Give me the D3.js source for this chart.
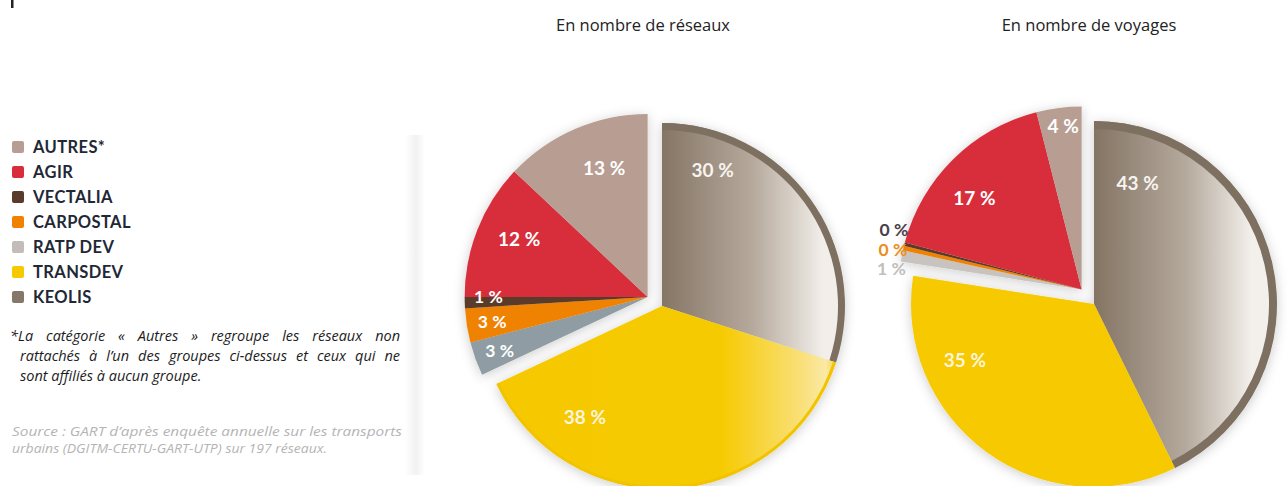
<!DOCTYPE html>
<html>
<head>
<meta charset="utf-8">
<script src="https://cdn.jsdelivr.net/npm/d3@7"></script>
<style>
  html, body { margin: 0; padding: 0; background: #ffffff; }
  svg { display: block; }
  text { font-family: Lato, "Open Sans", "Noto Sans", sans-serif; }
  .os { font-family: "Open Sans", "Noto Sans", sans-serif; }
</style>
</head>
<body>
<div id="chart"></div>
<script>
// ---------- DATA ----------
const categories = ["KEOLIS", "TRANSDEV", "RATP DEV", "CARPOSTAL", "VECTALIA", "AGIR", "AUTRES*"];
const legendLabels = ["AUTRES*", "AGIR", "VECTALIA", "CARPOSTAL", "RATP DEV", "TRANSDEV", "KEOLIS"];
const networksShare = [30, 38, 3, 3, 1, 12, 13];          // % en nombre de réseaux
const tripsShare    = [43, 35, 1, 0.4, 0.3, 17, 4];       // % en nombre de voyages
const pieTitles = ["En nombre de réseaux", "En nombre de voyages"];
const footnoteLines = [
  "*La catégorie « Autres » regroupe les réseaux non",
  "rattachés à l’un des groupes ci-dessus et ceux qui ne",
  "sont affiliés à aucun groupe."
];
const sourceLines = [
  "Source : GART d’après enquête annuelle sur les transports",
  "urbains (DGITM-CERTU-GART-UTP) sur 197 réseaux."
];

// ---------- STYLE / LAYOUT ----------
const W = 1287, H = 486;
const colors = {
  "KEOLIS": "#85786a", "TRANSDEV": "#f6c900", "RATP DEV": "#c3bcb8",
  "CARPOSTAL": "#ef8200", "VECTALIA": "#5a3b2b", "AGIR": "#d82e3b", "AUTRES*": "#b89d93"
};
const pies = [
  {
    values: networksShare, title: pieTitles[0], cx: 662, cy: 306, r: 183, titleX: 643,
    explodeFrom: 2, explode: 17, rim: 7, transdevGrad: true,
    over: { "RATP DEV": "#8f9ca3" },
    // label placement: [fraction along slice angle, fraction of radius]
    labelPos: [[0.19, 0.79], [0.78, 0.74], [0.5, 0.86], [0.5, 0.86], [1.0, 0.87], [0.56, 0.77], [0.6, 0.74]],
    labelSize: [19, 19, 17.5, 17.5, 17.5, 19, 19],
    outside: [false, false, false, false, false, false, false],
    labelColor: ["#f7f3ee", "#fbf4dc", "#ffffff", "#ffffff", "#ffffff", "#ffffff", "#ffffff"]
  },
  {
    values: tripsShare, title: pieTitles[1], cx: 1094, cy: 304, r: 183, titleX: 1089,
    explodeFrom: 2, explode: 19, rim: 8, transdevGrad: false,
    over: { "RATP DEV": "#c9c3bf" },
    labelPos: [[0.13, 0.70], [0.74, 0.77], [0.5, 1.0], [0.5, 1.0], [0.5, 1.0], [0.42, 0.77], [0.55, 0.9]],
    labelSize: [19, 19, 17.5, 17.5, 17.5, 19, 19],
    outside: [false, false, true, true, true, false, false],
    labelColor: ["#f7f3ee", "#fbf4dc", "#c2bebc", "#ea8f1c", "#4b4049", "#ffffff", "#ffffff"]
  }
];

const svg = d3.select("#chart").append("svg").attr("width", W).attr("height", H);
const defs = svg.append("defs");

const f = defs.append("filter").attr("id", "shadow")
  .attr("x", "-20%").attr("y", "-20%").attr("width", "140%").attr("height", "140%");
f.append("feDropShadow").attr("dx", 0).attr("dy", 2).attr("stdDeviation", 6)
  .attr("flood-color", "#000").attr("flood-opacity", 0.2);

function linGrad(id, stops) {
  const g = defs.append("linearGradient").attr("id", id)
    .attr("x1", 0).attr("y1", 0).attr("x2", 1).attr("y2", 0);
  stops.forEach(s => g.append("stop").attr("offset", s[0]).attr("stop-color", s[1]));
}
linGrad("keolisGrad0", [[0, "#857565"], [0.5, "#b6aa9d"], [0.88, "#f2eeea"], [1, "#f2eeea"]]);
linGrad("keolisGrad1", [[0, "#847464"], [0.5, "#b4a99c"], [0.86, "#f3efeb"], [1, "#f3efeb"]]);
linGrad("transdevGrad", [[0, "#f5c800"], [0.66, "#f6ca00"], [0.9, "#f9e07a"], [0.97, "#fbe9a6"], [1, "#f6d24a"]]);
linGrad("panelGrad", [[0, "#ffffff"], [0.55, "#f1f1f1"], [1, "#ffffff"]]);

// decorative remnant of the cropped title
svg.append("rect").attr("x", 11).attr("y", 0).attr("width", 2.5).attr("height", 8).attr("fill", "#222");

// legend panel edge shading
svg.append("rect").attr("x", 405).attr("y", 135).attr("width", 20).attr("height", 340)
  .attr("fill", "url(#panelGrad)");

// ---------- LEGEND ----------
const legY = d3.scalePoint().domain(legendLabels).range([147, 297]);
const leg = svg.append("g");
legendLabels.forEach(name => {
  leg.append("rect").attr("x", 12).attr("y", legY(name) - 6).attr("width", 12).attr("height", 12)
    .attr("rx", 2).attr("fill", colors[name]);
  leg.append("text").attr("x", 33).attr("y", legY(name)).attr("dy", "0.36em")
    .attr("font-size", 16.5).attr("font-weight", 700).attr("fill", "#1f2836")
    .attr("letter-spacing", 0.4).text(name);
});

// justify a text line by word spacing
function justify(sel, target) {
  const node = sel.node();
  const L = node.getComputedTextLength();
  const n = (sel.text().match(/ /g) || []).length;
  if (n > 0 && target > L) sel.style("word-spacing", ((target - L) / n) + "px");
  else if (target < L) sel.attr("textLength", target).attr("lengthAdjust", "spacingAndGlyphs");
}

// ---------- FOOTNOTE ----------
const fnY = [341, 361, 381];
const fnX = [10, 20, 20];
const fnJust = [390, 380, null];
footnoteLines.forEach((t, i) => {
  const tx = svg.append("text").attr("class", "os").attr("x", fnX[i]).attr("y", fnY[i])
    .attr("font-size", 14.5).attr("font-style", "italic").attr("fill", "#1c1c1c").text(t);
  if (fnJust[i]) justify(tx, fnJust[i]);
});
const srcY = [436, 453];
const srcWidth = [390, 315];
sourceLines.forEach((t, i) => {
  svg.append("text").attr("class", "os").attr("x", 12).attr("y", srcY[i])
    .attr("font-size", 12.5).attr("font-style", "italic").attr("fill", "#b4b4b4")
    .attr("textLength", srcWidth[i]).attr("lengthAdjust", "spacingAndGlyphs").text(t);
});

// ---------- PIES ----------
const pieGen = d3.pie().sort(null).value(d => d.v);

pies.forEach((p, pi) => {
  const data = categories.map((c, i) => ({ cat: c, v: p.values[i], i }));
  const arcs = pieGen(data);
  const exStart = arcs[p.explodeFrom].startAngle;
  const exEnd = arcs[arcs.length - 1].endAngle;
  const exMid = (exStart + exEnd) / 2;
  const exDx = Math.sin(exMid) * p.explode, exDy = -Math.cos(exMid) * p.explode;

  svg.append("text").attr("class", "os").attr("x", p.titleX).attr("y", 31).attr("text-anchor", "middle")
    .attr("font-size", 16.5).attr("fill", "#222").text(p.title);

  const g = svg.append("g").attr("transform", `translate(${p.cx},${p.cy})`)
    .attr("filter", "url(#shadow)");
  const arc = d3.arc().innerRadius(0).outerRadius(p.r);

  arcs.forEach((a, k) => {
    const off = k >= p.explodeFrom ? [exDx, exDy] : [0, 0];
    const sg = g.append("g").attr("transform", `translate(${off[0]},${off[1]})`);
    let fill = p.over[a.data.cat] || colors[a.data.cat];
    if (a.data.cat === "KEOLIS") fill = `url(#keolisGrad${pi})`;
    if (a.data.cat === "TRANSDEV" && p.transdevGrad) fill = "url(#transdevGrad)";
    sg.append("path").attr("d", arc(a)).attr("fill", fill);
    if (a.data.cat === "KEOLIS") {
      sg.append("path").attr("d", d3.arc().innerRadius(p.r - p.rim).outerRadius(p.r)(a))
        .attr("fill", "#7e6f60");
    }
    if (a.data.cat === "TRANSDEV" && p.transdevGrad) {
      sg.append("path").attr("d", d3.arc().innerRadius(p.r - 3).outerRadius(p.r)(a))
        .attr("fill", "#f2c400");
    }
  });

  // labels
  const lab = svg.append("g").attr("transform", `translate(${p.cx},${p.cy})`);
  const outsideItems = [];
  arcs.forEach((a, k) => {
    const off = k >= p.explodeFrom ? [exDx, exDy] : [0, 0];
    const [t, rf] = p.labelPos[k];
    const ang = a.startAngle + (a.endAngle - a.startAngle) * t;
    const x = off[0] + Math.sin(ang) * p.r * rf;
    const y = off[1] - Math.cos(ang) * p.r * rf;
    const txt = Math.round(a.data.v) + "\u202f%";
    if (p.outside[k]) {
      outsideItems.push({ x, y, ang, txt, color: p.labelColor[k], size: p.labelSize[k] });
    } else {
      lab.append("text").attr("x", x).attr("y", y).attr("dy", "0.36em").attr("text-anchor", "middle")
        .attr("font-size", p.labelSize[k]).attr("font-weight", 700).attr("fill", p.labelColor[k]).text(txt);
    }
  });
  if (outsideItems.length) {
    outsideItems.sort((a, b) => b.ang - a.ang); // highest angle sits on top
    const meanY = d3.mean(outsideItems, d => d.y);
    const step = 19.5;
    outsideItems.forEach((d, i) => {
      const yy = meanY + (i - (outsideItems.length - 1) / 2) * step;
      lab.append("text").attr("x", d.x + 4).attr("y", yy).attr("dy", "0.36em").attr("text-anchor", "end")
        .attr("font-size", d.size).attr("font-weight", 700).attr("fill", d.color).text(d.txt);
    });
  }
});
</script>
</body>
</html>
